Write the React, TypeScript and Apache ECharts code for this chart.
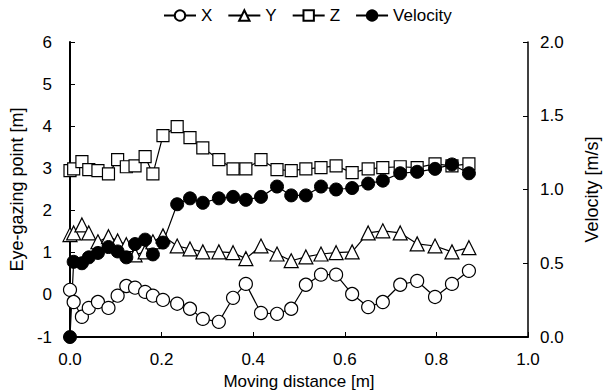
import React, { useEffect, useRef } from "react";
import * as echarts from "echarts";

const distance = [0.000, 0.008, 0.026, 0.041, 0.061, 0.084, 0.104, 0.123, 0.142, 0.164, 0.181, 0.203, 0.234, 0.262, 0.290, 0.325, 0.356, 0.384, 0.417, 0.452, 0.483, 0.515, 0.548, 0.581, 0.616, 0.651, 0.683, 0.721, 0.758, 0.797, 0.834, 0.871];
const xVals = [0.12, -0.17, -0.52, -0.31, -0.17, -0.31, -0.02, 0.21, 0.17, 0.07, -0.02, -0.12, -0.21, -0.33, -0.57, -0.64, -0.07, 0.26, -0.43, -0.45, -0.33, 0.24, 0.48, 0.48, 0.02, -0.29, -0.17, 0.24, 0.33, -0.05, 0.26, 0.57];
const yVals = [1.43, 1.47, 1.66, 1.47, 1.26, 1.38, 1.28, 1.19, 0.95, 1.02, 1.26, 1.40, 1.16, 1.09, 1.02, 1.02, 1.00, 0.86, 1.16, 0.97, 0.81, 0.90, 0.97, 1.00, 1.02, 1.47, 1.52, 1.47, 1.21, 1.16, 1.02, 1.12];
const zVals = [2.95, 2.99, 3.16, 2.97, 2.95, 2.87, 3.21, 3.04, 3.06, 3.28, 2.87, 3.78, 3.99, 3.73, 3.49, 3.21, 2.99, 2.99, 3.21, 2.97, 2.95, 2.99, 3.02, 3.06, 2.90, 2.99, 3.02, 3.04, 3.02, 3.11, 3.06, 3.11];
const velocity = [0.00, 0.51, 0.50, 0.54, 0.57, 0.61, 0.58, 0.54, 0.63, 0.66, 0.56, 0.64, 0.90, 0.94, 0.91, 0.94, 0.95, 0.93, 0.95, 1.02, 0.96, 0.96, 1.02, 1.00, 1.01, 1.04, 1.06, 1.11, 1.12, 1.14, 1.17, 1.11];

const FONT = "'Liberation Sans', Arial, sans-serif";

function pairs(vals: number[]) {
  return distance.map((d, i) => [d, vals[i]]);
}

export default function App() {
  const ref = useRef<HTMLDivElement>(null);
  useEffect(() => {
    if (!ref.current) return;
    const chart = echarts.init(ref.current, undefined, { renderer: "svg" });
    const open = (name: string, symbol: string, size: number, vals: number[]) => ({
      name,
      type: "line",
      yAxisIndex: 0,
      data: pairs(vals),
      symbol,
      symbolSize: size,
      showAllSymbol: true,
      lineStyle: { color: "#000", width: 1.2 },
      itemStyle: { color: "#fff", borderColor: "#000", borderWidth: 1.2 },
    });
    chart.setOption({
      animation: false,
      backgroundColor: "#fff",
      textStyle: { fontFamily: FONT, color: "#000" },
      legend: {
        top: 2,
        left: 158,
        itemWidth: 32,
        itemHeight: 13,
        itemGap: 15,
        textStyle: { fontFamily: FONT, fontSize: 17, color: "#000" },
        data: ["X", "Y", "Z", "Velocity"],
      },
      grid: { left: 70, right: 75, top: 42, bottom: 55, outerBoundsMode: "none", containLabel: false },
      xAxis: {
        type: "value",
        min: 0,
        max: 1,
        interval: 0.2,
        name: "Moving distance [m]",
        nameLocation: "middle",
        nameGap: 31,
        nameTextStyle: { fontFamily: FONT, fontSize: 17, color: "#000" },
        axisLine: { onZero: false, lineStyle: { color: "#000", width: 2 } },
        axisTick: { inside: true, length: 5, lineStyle: { color: "#000" } },
        axisLabel: { fontFamily: FONT, fontSize: 17, color: "#000", margin: 14, formatter: (v: number) => v.toFixed(1) },
        splitLine: { show: false },
      },
      yAxis: [
        {
          type: "value",
          min: -1,
          max: 6,
          interval: 1,
          position: "left",
          name: "Eye-gazing point [m]",
          nameLocation: "middle",
          nameGap: 40,
          nameRotate: 90,
          nameTextStyle: { fontFamily: FONT, fontSize: 18, color: "#000" },
          axisLine: { show: true, onZero: false, lineStyle: { color: "#000", width: 2 } },
          axisTick: { show: true, inside: true, length: 5, lineStyle: { color: "#000" } },
          axisLabel: { fontFamily: FONT, fontSize: 17, color: "#000", margin: 18 },
          splitLine: { show: false },
        },
        {
          type: "value",
          min: 0,
          max: 2,
          interval: 0.5,
          position: "right",
          name: "Velocity [m/s]",
          nameLocation: "middle",
          nameGap: 55,
          nameRotate: 90,
          nameTextStyle: { fontFamily: FONT, fontSize: 18, color: "#000" },
          axisLine: { show: true, onZero: false, lineStyle: { color: "#000", width: 1.5 } },
          axisTick: { show: true, inside: true, length: 5, lineStyle: { color: "#000" } },
          axisLabel: { fontFamily: FONT, fontSize: 17, color: "#000", margin: 12, formatter: (v: number) => v.toFixed(1) },
          splitLine: { show: false },
        },
      ],
      series: [
        open("X", "circle", 13, xVals),
        open("Y", "triangle", 14, yVals),
        open("Z", "rect", 12, zVals),
        {
          name: "Velocity",
          type: "line",
          yAxisIndex: 1,
          data: pairs(velocity),
          symbol: "circle",
          symbolSize: 13,
          showAllSymbol: true,
          lineStyle: { color: "#000", width: 1.2 },
          itemStyle: { color: "#000", borderColor: "#000", borderWidth: 1 },
        },
      ],
    });
    return () => chart.dispose();
  }, []);
  return <div ref={ref} style={{ width: 603, height: 392, position: "absolute", left: 0, top: 0 }} />;
}
